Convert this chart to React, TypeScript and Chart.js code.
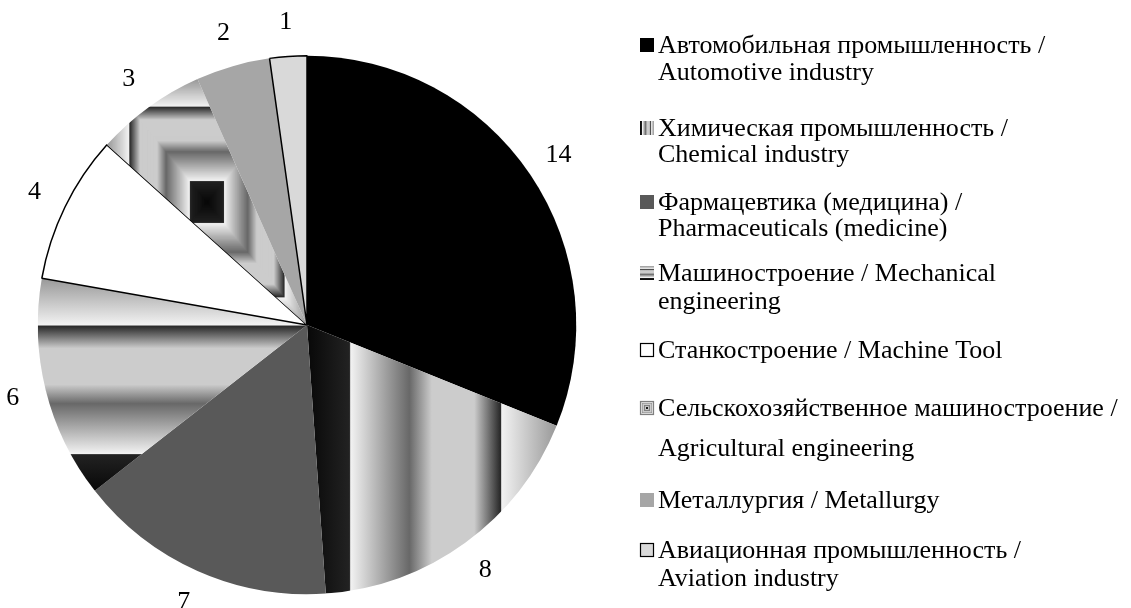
import React, { useEffect, useRef } from "react";
import { Chart, registerables } from "chart.js";

Chart.register(...registerables);

// ---------------- data ----------------
const categories: string[][] = [
  ["Автомобильная промышленность /", "Automotive industry"],
  ["Химическая промышленность /", "Chemical industry"],
  ["Фармацевтика (медицина) /", "Pharmaceuticals (medicine)"],
  ["Машиностроение / Mechanical", "engineering"],
  ["Станкостроение / Machine Tool"],
  ["Сельскохозяйственное машиностроение /", "Agricultural engineering"],
  ["Металлургия / Metallurgy"],
  ["Авиационная промышленность /", "Aviation industry"],
];
const values: number[] = [14, 8, 7, 6, 4, 3, 2, 1];

// ---------------- styles ----------------
const fills: string[] = ["#000000", "vstripes", "#595959", "hstripes", "#ffffff", "rect", "#a6a6a6", "#d9d9d9"];
const borderWidths: number[] = [0, 0, 0, 0, 1.5, 0, 0, 1.5];
const swatchBorders: (string | null)[] = [null, null, null, null, "#000000", "#7f7f7f", null, "#000000"];
// legend baselines per line (layout)
const legendBaselines: number[][] = [
  [53, 80],
  [136, 162],
  [210, 236],
  [281, 309],
  [358],
  [416, 456],
  [508],
  [558, 586],
];

const W = 1131;
const H = 608;
const FONT = "'Liberation Serif', 'Times New Roman', serif";

const CHROME: [number, number][] = [
  [0, 8], [0.17, 34], [0.175, 242], [0.41, 104], [0.5, 204], [0.67, 204],
  [0.775, 40], [0.78, 242], [1, 152],
];

function grayAt(t: number): string {
  let g = CHROME[CHROME.length - 1][1];
  for (let i = 0; i < CHROME.length - 1; i++) {
    const [p0, v0] = CHROME[i];
    const [p1, v1] = CHROME[i + 1];
    if (t >= p0 && t <= p1) {
      g = v0 + ((v1 - v0) * (t - p0)) / (p1 - p0 || 1);
      break;
    }
  }
  const v = Math.round(g);
  return `rgb(${v},${v},${v})`;
}

function paintTexture(ctx: CanvasRenderingContext2D, kind: string, x: number, y: number, w: number, h: number) {
  if (kind === "vstripes" || kind === "hstripes") {
    const g = kind === "vstripes"
      ? ctx.createLinearGradient(x, 0, x + w, 0)
      : ctx.createLinearGradient(0, y + h, 0, y);
    CHROME.forEach(([p, v]) => g.addColorStop(p, `rgb(${v},${v},${v})`));
    ctx.fillStyle = g;
    ctx.fillRect(x, y, w, h);
  } else if (kind === "rect") {
    const cx = x + w / 2;
    const cy = y + h / 2;
    const n = Math.max(8, Math.ceil(Math.max(w, h) / 2) * 2);
    for (let i = n; i >= 0; i--) {
      const t = i / n;
      ctx.fillStyle = grayAt(t);
      ctx.fillRect(cx - (t * w) / 2, cy - (t * h) / 2, t * w, t * h);
    }
  } else {
    ctx.fillStyle = kind;
    ctx.fillRect(x, y, w, h);
  }
}

function sliceBox(cx: number, cy: number, r: number, a0: number, a1: number) {
  const pts: [number, number][] = [[cx, cy], [cx + r * Math.cos(a0), cy + r * Math.sin(a0)], [cx + r * Math.cos(a1), cy + r * Math.sin(a1)]];
  for (let k = -4; k <= 8; k++) {
    const a = (k * Math.PI) / 2;
    if (a > a0 && a < a1) pts.push([cx + r * Math.cos(a), cy + r * Math.sin(a)]);
  }
  const xs = pts.map((p) => p[0]);
  const ys = pts.map((p) => p[1]);
  const x = Math.min(...xs), y = Math.min(...ys);
  return { x, y, w: Math.max(...xs) - x, h: Math.max(...ys) - y };
}

const patternCache: Record<string, CanvasPattern | string> = {};

function sliceFill(c: any): any {
  const i = c.dataIndex;
  const kind = fills[i];
  if (kind.startsWith("#")) return kind;
  const chart = c.chart;
  const ca = chart.chartArea;
  if (!ca) return "#bbbbbb";
  const maxB = Math.max(...borderWidths);
  const r = Math.max((Math.min(ca.right - ca.left, ca.bottom - ca.top) - maxB) / 2, 0);
  const cx = (ca.left + ca.right) / 2;
  const cy = (ca.top + ca.bottom) / 2;
  const total = values.reduce((a, b) => a + b, 0);
  let cum = 0;
  for (let k = 0; k < i; k++) cum += values[k];
  const a0 = -Math.PI / 2 + (2 * Math.PI * cum) / total;
  const a1 = a0 + (2 * Math.PI * values[i]) / total;
  const key = `${i}-${cx}-${cy}-${r}`;
  if (patternCache[key]) return patternCache[key];
  const off = document.createElement("canvas");
  off.width = chart.width;
  off.height = chart.height;
  const octx = off.getContext("2d")!;
  const b = sliceBox(cx, cy, r, a0, a1);
  paintTexture(octx, kind, b.x, b.y, b.w, b.h);
  const pat = chart.ctx.createPattern(off, "no-repeat");
  patternCache[key] = pat || "#bbbbbb";
  return patternCache[key];
}

const labelPlugin = {
  id: "outsideLabels",
  afterDatasetsDraw(chart: any) {
    const ctx = chart.ctx as CanvasRenderingContext2D;
    const meta = chart.getDatasetMeta(0);
    ctx.save();
    ctx.font = `26px ${FONT}`;
    ctx.fillStyle = "#000";
    ctx.textAlign = "center";
    ctx.textBaseline = "middle";
    meta.data.forEach((arc: any, i: number) => {
      const p = arc.getProps(["x", "y", "startAngle", "endAngle", "outerRadius"], true);
      const mid = (p.startAngle + p.endAngle) / 2;
      const rr = p.outerRadius + 34;
      ctx.fillText(String(values[i]), p.x + Math.cos(mid) * rr, p.y + Math.sin(mid) * rr);
    });
    ctx.restore();
  },
};

const legendPlugin = {
  id: "sideLegend",
  afterDraw(chart: any) {
    const ctx = chart.ctx as CanvasRenderingContext2D;
    ctx.save();
    ctx.font = `26px ${FONT}`;
    ctx.fillStyle = "#000";
    ctx.textAlign = "left";
    ctx.textBaseline = "alphabetic";
    const boxX = 640;
    const box = 14;
    const textX = 658;
    categories.forEach((lines, i) => {
      const ys = legendBaselines[i];
      const by = ys[0] - box - 1;
      paintTexture(ctx, fills[i], boxX, by, box, box);
      if (swatchBorders[i]) {
        ctx.strokeStyle = swatchBorders[i]!;
        ctx.lineWidth = 1.2;
        ctx.strokeRect(boxX + 0.5, by + 0.5, box - 1, box - 1);
      }
      ctx.fillStyle = "#000";
      lines.forEach((line, j) => ctx.fillText(line, textX, ys[j]));
    });
    ctx.restore();
  },
};

export default function App() {
  const ref = useRef<HTMLCanvasElement | null>(null);
  useEffect(() => {
    if (!ref.current) return;
    const chart = new Chart(ref.current, {
      type: "pie",
      data: {
        labels: categories.map((l) => l.join(" ")),
        datasets: [
          {
            data: values,
            backgroundColor: sliceFill as any,
            borderColor: "#000000",
            borderWidth: borderWidths,
            hoverOffset: 0,
          },
        ],
      },
      options: {
        animation: false,
        responsive: false,
        events: [],
        layout: { padding: { left: 37, right: 554, top: 55, bottom: 13 } },
        plugins: {
          legend: { display: false },
          tooltip: { enabled: false },
        },
      },
      plugins: [labelPlugin, legendPlugin],
    });
    return () => chart.destroy();
  }, []);
  return (
    <div style={{ position: "fixed", left: 0, top: 0, width: W, height: H, background: "#ffffff" }}>
      <canvas ref={ref} width={W} height={H} style={{ display: "block", width: W, height: H }} />
    </div>
  );
}
